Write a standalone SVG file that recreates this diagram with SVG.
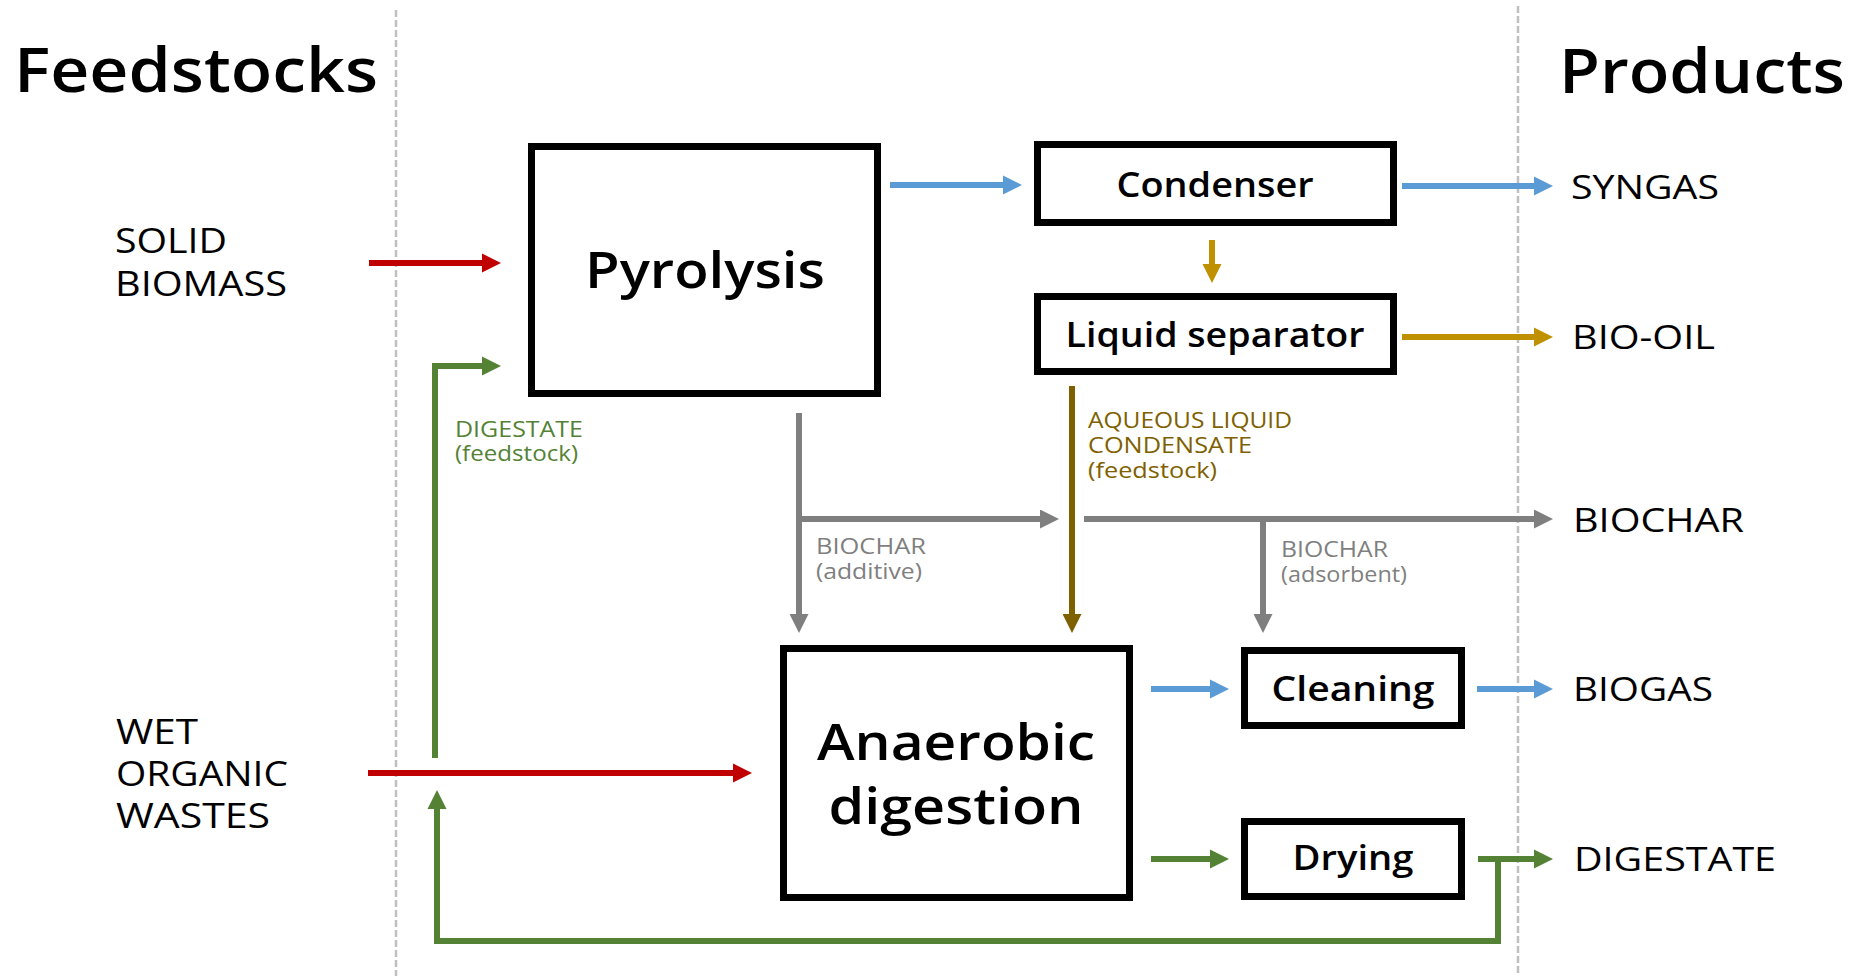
<svg xmlns="http://www.w3.org/2000/svg" width="1874" height="976" viewBox="0 0 1874 976">
<style>
text{font-family:"Open Sans","Liberation Sans",sans-serif;fill:#000}
.title{font-size:62px;font-weight:600}
.feed{font-size:34px;font-weight:500}
.prod{font-size:33px;font-weight:500}
.box{fill:#fff;stroke:#000;stroke-width:7}
.big{font-size:50px;font-weight:600;text-anchor:middle}
.mid{font-size:35px;font-weight:600;text-anchor:middle}
.lbl{font-size:22px;font-weight:500}
.c{fill:none;stroke-width:6;stroke-linejoin:miter}
.red{stroke:#C00000}.blue{stroke:#5B9BD5}.gold{stroke:#BF9000}.brown{stroke:#7F6000}.green{stroke:#548235}.gray{stroke:#7F7F7F}
.div{stroke:#BFBFBF;stroke-width:2.5;stroke-dasharray:7 3}
</style>
<defs>
<marker id="aRed" viewBox="0 0 10 10" refX="0" refY="5" markerWidth="19" markerHeight="20" markerUnits="userSpaceOnUse" orient="auto"><path d="M0,0L10,5L0,10z" fill="#C00000"/></marker>
<marker id="aBlue" viewBox="0 0 10 10" refX="0" refY="5" markerWidth="19" markerHeight="21" markerUnits="userSpaceOnUse" orient="auto"><path d="M0,0L10,5L0,10z" fill="#5B9BD5"/></marker>
<marker id="aGold" viewBox="0 0 10 10" refX="0" refY="5" markerWidth="19" markerHeight="20" markerUnits="userSpaceOnUse" orient="auto"><path d="M0,0L10,5L0,10z" fill="#BF9000"/></marker>
<marker id="aBrown" viewBox="0 0 10 10" refX="0" refY="5" markerWidth="19" markerHeight="19" markerUnits="userSpaceOnUse" orient="auto"><path d="M0,0L10,5L0,10z" fill="#7F6000"/></marker>
<marker id="aGreen" viewBox="0 0 10 10" refX="0" refY="5" markerWidth="19" markerHeight="20" markerUnits="userSpaceOnUse" orient="auto"><path d="M0,0L10,5L0,10z" fill="#548235"/></marker>
<marker id="aGray" viewBox="0 0 10 10" refX="0" refY="5" markerWidth="19" markerHeight="19" markerUnits="userSpaceOnUse" orient="auto"><path d="M0,0L10,5L0,10z" fill="#7F7F7F"/></marker>
</defs>
<rect width="1874" height="976" fill="#fff"/>
<g id="dividers">
<line class="div" x1="396" y1="10" x2="396" y2="976"/>
<line class="div" x1="1518" y1="6" x2="1518" y2="976"/>
</g>
<g id="titles">
<text class="title" x="14" y="92" textLength="364" lengthAdjust="spacingAndGlyphs">Feedstocks</text>
<text class="title" x="1559" y="93" textLength="286" lengthAdjust="spacingAndGlyphs">Products</text>
</g>
<g id="feedstocks">
<text class="feed" x="115" y="253" textLength="112" lengthAdjust="spacingAndGlyphs">SOLID</text>
<text class="feed" x="115" y="296" textLength="172" lengthAdjust="spacingAndGlyphs">BIOMASS</text>
<text class="feed" x="116" y="744" textLength="82" lengthAdjust="spacingAndGlyphs">WET</text>
<text class="feed" x="116" y="786" textLength="172" lengthAdjust="spacingAndGlyphs">ORGANIC</text>
<text class="feed" x="116" y="828" textLength="154" lengthAdjust="spacingAndGlyphs">WASTES</text>
</g>
<g id="products">
<text class="prod" x="1571" y="199" textLength="148" lengthAdjust="spacingAndGlyphs">SYNGAS</text>
<text class="prod" x="1572" y="349" textLength="143" lengthAdjust="spacingAndGlyphs">BIO-OIL</text>
<text class="prod" x="1573" y="532" textLength="171" lengthAdjust="spacingAndGlyphs">BIOCHAR</text>
<text class="prod" x="1573" y="701" textLength="140" lengthAdjust="spacingAndGlyphs">BIOGAS</text>
<text class="prod" x="1574" y="871" textLength="202" lengthAdjust="spacingAndGlyphs">DIGESTATE</text>
</g>
<g id="connectors">
<path class="c red" d="M369,263H482" marker-end="url(#aRed)"/>
<path class="c green" d="M435,758V366H482" marker-end="url(#aGreen)"/>
<path class="c red" d="M368,773H733" marker-end="url(#aRed)"/>
<path class="c green" d="M1498,857V941H437V809" marker-end="url(#aGreen)"/>
<path class="c green" d="M1478,859H1534" marker-end="url(#aGreen)"/>
<path class="c green" d="M1151,859H1210" marker-end="url(#aGreen)"/>
<path class="c blue" d="M1151,689H1210" marker-end="url(#aBlue)"/>
<path class="c blue" d="M1477,689H1534" marker-end="url(#aBlue)"/>
<path class="c blue" d="M890,185H1003" marker-end="url(#aBlue)"/>
<path class="c blue" d="M1402,186H1534" marker-end="url(#aBlue)"/>
<path class="c gold" d="M1212,240V264" marker-end="url(#aGold)"/>
<path class="c gold" d="M1402,337H1534" marker-end="url(#aGold)"/>
<path class="c brown" d="M1072,386V614" marker-end="url(#aBrown)"/>
<path class="c gray" d="M799,413V614" marker-end="url(#aGray)"/>
<path class="c gray" d="M799,519H1040" marker-end="url(#aGray)"/>
<path class="c gray" d="M1084,519H1534" marker-end="url(#aGray)"/>
<path class="c gray" d="M1263,519V614" marker-end="url(#aGray)"/>
</g>
<g id="labels">
<text class="lbl" x="455" y="437" textLength="128" lengthAdjust="spacingAndGlyphs" style="fill:#548235">DIGESTATE</text>
<text class="lbl" x="455" y="461" textLength="123" lengthAdjust="spacingAndGlyphs" style="fill:#548235">(feedstock)</text>
<text class="lbl" x="816" y="554" textLength="110" lengthAdjust="spacingAndGlyphs" style="fill:#7F7F7F">BIOCHAR</text>
<text class="lbl" x="816" y="579" textLength="106" lengthAdjust="spacingAndGlyphs" style="fill:#7F7F7F">(additive)</text>
<text class="lbl" x="1088" y="428" textLength="204" lengthAdjust="spacingAndGlyphs" style="fill:#7F6000">AQUEOUS LIQUID</text>
<text class="lbl" x="1088" y="453" textLength="164" lengthAdjust="spacingAndGlyphs" style="fill:#7F6000">CONDENSATE</text>
<text class="lbl" x="1088" y="478" textLength="129" lengthAdjust="spacingAndGlyphs" style="fill:#7F6000">(feedstock)</text>
<text class="lbl" x="1281" y="557" textLength="107" lengthAdjust="spacingAndGlyphs" style="fill:#7F7F7F">BIOCHAR</text>
<text class="lbl" x="1281" y="582" textLength="126" lengthAdjust="spacingAndGlyphs" style="fill:#7F7F7F">(adsorbent)</text>
</g>
<g id="pyrolysis">
<rect class="box" x="531.5" y="146.5" width="346" height="247"/>
<text class="big" x="705" y="288" textLength="240" lengthAdjust="spacingAndGlyphs">Pyrolysis</text>
</g>
<g id="condenser">
<rect class="box" x="1037.5" y="144.5" width="356" height="78"/>
<text class="mid" x="1215" y="197" textLength="197" lengthAdjust="spacingAndGlyphs">Condenser</text>
</g>
<g id="liquid-separator">
<rect class="box" x="1037.5" y="296.5" width="356" height="75"/>
<text class="mid" x="1215" y="347" textLength="299" lengthAdjust="spacingAndGlyphs">Liquid separator</text>
</g>
<g id="anaerobic-digestion">
<rect class="box" x="783.5" y="648.5" width="346" height="249"/>
<text class="big" x="956" y="760" textLength="278" lengthAdjust="spacingAndGlyphs">Anaerobic</text>
<text class="big" x="956" y="824" textLength="255" lengthAdjust="spacingAndGlyphs">digestion</text>
</g>
<g id="cleaning">
<rect class="box" x="1244.5" y="650.5" width="217" height="75"/>
<text class="mid" x="1353" y="701" textLength="163" lengthAdjust="spacingAndGlyphs">Cleaning</text>
</g>
<g id="drying">
<rect class="box" x="1244.5" y="821.5" width="217" height="75"/>
<text class="mid" x="1353" y="870" textLength="121" lengthAdjust="spacingAndGlyphs">Drying</text>
</g>
</svg>
